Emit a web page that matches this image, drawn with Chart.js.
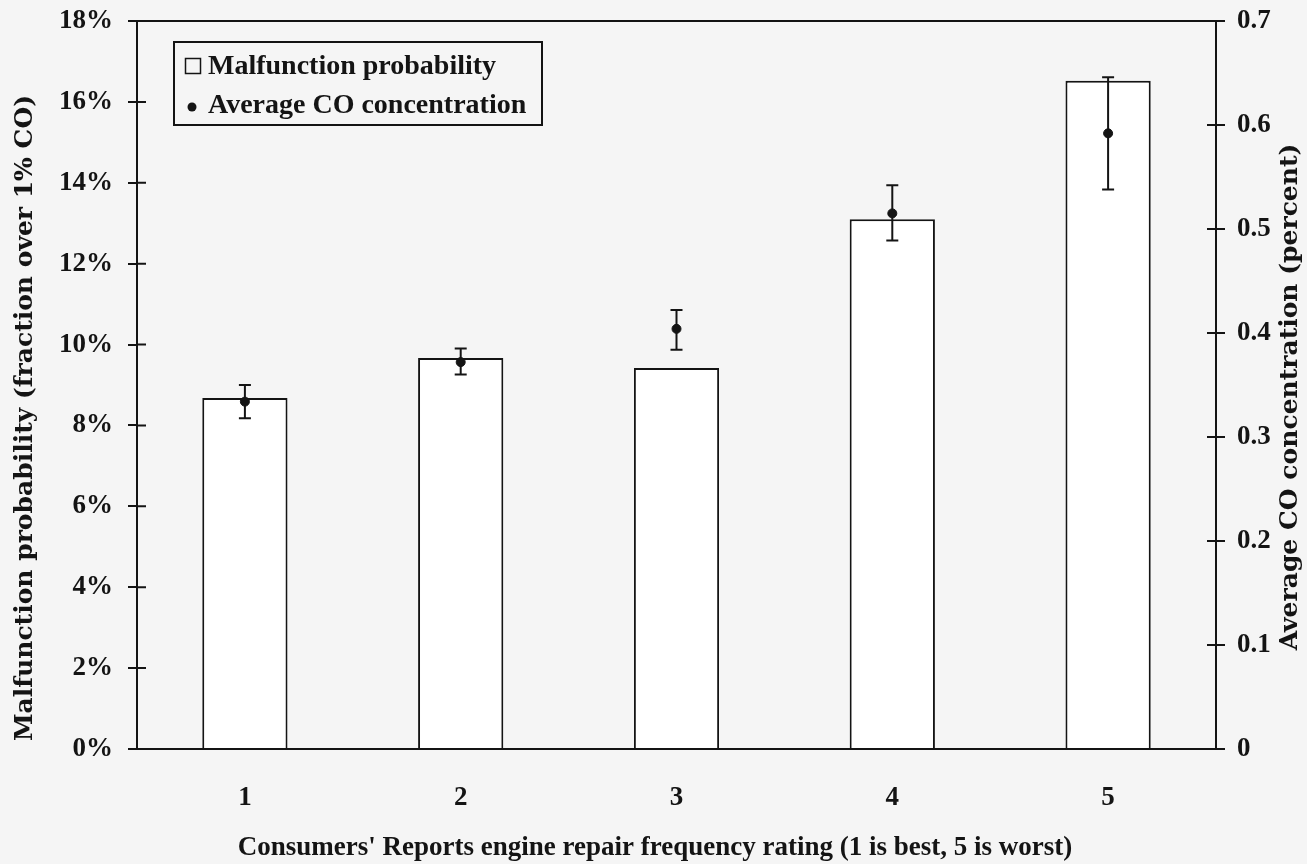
<!DOCTYPE html>
<html><head><meta charset="utf-8">
<script src="https://cdn.jsdelivr.net/npm/chart.js@4.4.0/dist/chart.umd.min.js"></script>
<style>html,body{margin:0;padding:0;background:#f5f5f5;overflow:hidden}</style>
</head><body>
<canvas id="c" width="1307" height="864" style="width:1307px;height:864px;display:block"></canvas>
<script>
const categories = ['1', '2', '3', '4', '5'];
const malfunctionPct = [8.68, 9.67, 9.42, 13.1, 16.52];
const avgCO = [0.334, 0.372, 0.404, 0.515, 0.592];
const avgCOLow = [0.318, 0.360, 0.384, 0.489, 0.538];
const avgCOHigh = [0.350, 0.385, 0.422, 0.542, 0.646];
const leftTicks = [0, 2, 4, 6, 8, 10, 12, 14, 16, 18];
const rightTicks = [0, 0.1, 0.2, 0.3, 0.4, 0.5, 0.6, 0.7];
const seriesLabels = ['Malfunction probability', 'Average CO concentration'];
const axisTitles = {
  x: "Consumers' Reports engine repair frequency rating (1 is best, 5 is worst)",
  y: 'Malfunction probability (fraction over 1% CO)',
  y1: 'Average CO concentration (percent)'
};

const INK = '#141414';
const FONT = "'Liberation Serif', 'DejaVu Serif', serif";
const WIDE = "'DejaVu Serif', 'Liberation Serif', serif";

const errorBars = {
  id: 'errorBars',
  afterDatasetDraw(chart, args) {
    if (args.meta.type !== 'bar') return;
    const ctx = chart.ctx, xs = chart.scales.x, ys = chart.scales.y1;
    ctx.save();
    ctx.strokeStyle = INK; ctx.lineWidth = 2;
    avgCO.forEach((v, i) => {
      const x = xs.getPixelForValue(i);
      const yl = ys.getPixelForValue(avgCOLow[i]);
      const yh = ys.getPixelForValue(avgCOHigh[i]);
      ctx.beginPath();
      ctx.moveTo(x, yl); ctx.lineTo(x, yh);
      ctx.moveTo(x - 6, yl); ctx.lineTo(x + 6, yl);
      ctx.moveTo(x - 6, yh); ctx.lineTo(x + 6, yh);
      ctx.stroke();
    });
    ctx.restore();
  }
};

const frame = {
  id: 'frame',
  afterDraw(chart) {
    const ctx = chart.ctx, a = chart.chartArea;
    const yl = chart.scales.y, yr = chart.scales.y1;
    ctx.save();
    ctx.strokeStyle = INK; ctx.lineWidth = 2;
    ctx.beginPath();
    ctx.moveTo(a.left, a.top); ctx.lineTo(a.right, a.top);
    leftTicks.forEach(t => { const y = yl.getPixelForValue(t); ctx.moveTo(a.left, y); ctx.lineTo(a.left + 9, y); });
    rightTicks.forEach(t => { const y = yr.getPixelForValue(t); ctx.moveTo(a.right, y); ctx.lineTo(a.right - 9, y); });
    ctx.stroke();

    // legend
    const bx = 174, by = 42, bw = 368, bh = 83;
    ctx.strokeRect(bx, by, bw, bh);
    ctx.lineWidth = 1.5;
    ctx.strokeRect(185.5, 58.5, 15, 15);
    ctx.fillStyle = INK;
    ctx.beginPath(); ctx.arc(192, 107, 4.5, 0, Math.PI * 2); ctx.fill();
    ctx.font = 'bold 28px ' + FONT;
    ctx.textBaseline = 'middle';
    ctx.textAlign = 'left';
    ctx.fillText(chart.data.datasets[0].label, 208, 67);
    ctx.fillText(chart.data.datasets[1].label, 208, 106);

    // axis titles
    ctx.textAlign = 'center';
    ctx.font = 'bold 27px ' + FONT;
    ctx.fillText(axisTitles.x, 655, 848);
    ctx.font = 'bold 25px ' + WIDE;
    ctx.save();
    ctx.translate(25, 418); ctx.rotate(-Math.PI / 2);
    ctx.fillText(axisTitles.y, 0, 0);
    ctx.restore();
    ctx.save();
    ctx.translate(1290, 397); ctx.rotate(-Math.PI / 2);
    ctx.fillText(axisTitles.y1, 0, 0);
    ctx.restore();
    ctx.restore();
  }
};

const tickFont = { family: FONT, size: 27, weight: 'bold' };

new Chart(document.getElementById('c'), {
  type: 'bar',
  data: {
    labels: categories,
    datasets: [
      {
        type: 'bar', label: seriesLabels[0], data: malfunctionPct, yAxisID: 'y',
        backgroundColor: '#ffffff', borderColor: INK, borderWidth: 2,
        barPercentage: 0.395, categoryPercentage: 1.0, order: 2
      },
      {
        type: 'line', label: seriesLabels[1], data: avgCO, yAxisID: 'y1',
        showLine: false, pointRadius: 4.5, pointBackgroundColor: INK, pointBorderColor: INK,
        order: 1
      }
    ]
  },
  options: {
    responsive: false, animation: false, devicePixelRatio: 1,
    layout: { padding: { top: 21, left: 0, right: 0, bottom: 0 } },
    plugins: { legend: { display: false }, tooltip: { enabled: false } },
    scales: {
      x: {
        grid: { display: false, drawTicks: false },
        border: { display: true, color: INK, width: 2 },
        ticks: { color: INK, padding: 33, font: tickFont },
        title: { display: false, text: axisTitles.x },
        afterFit(s) { s.height = 115; s.paddingLeft = 0; s.paddingRight = 0; }
      },
      y: {
        position: 'left', min: 0, max: 18,
        afterBuildTicks(s) { s.ticks = leftTicks.map(v => ({ value: v })); },
        grid: { display: true, drawOnChartArea: false, drawTicks: true, tickLength: 9, color: INK, lineWidth: 2 },
        border: { display: true, color: INK, width: 2 },
        ticks: { color: INK, padding: 15, font: tickFont, callback: v => v + '%' },
        title: { display: false, text: axisTitles.y },
        afterFit(s) { s.width = 137; s.paddingTop = 0; s.paddingBottom = 0; }
      },
      y1: {
        position: 'right', min: 0, max: 0.7,
        afterBuildTicks(s) { s.ticks = rightTicks.map(v => ({ value: v })); },
        grid: { display: true, drawOnChartArea: false, drawTicks: true, tickLength: 9, color: INK, lineWidth: 2 },
        border: { display: true, color: INK, width: 2 },
        ticks: { color: INK, padding: 12, font: tickFont, callback: v => String(Math.round(v * 10) / 10) },
        title: { display: false, text: axisTitles.y1 },
        afterFit(s) { s.width = 91; s.paddingTop = 0; s.paddingBottom = 0; }
      }
    }
  },
  plugins: [errorBars, frame]
});
</script>
</body></html>
